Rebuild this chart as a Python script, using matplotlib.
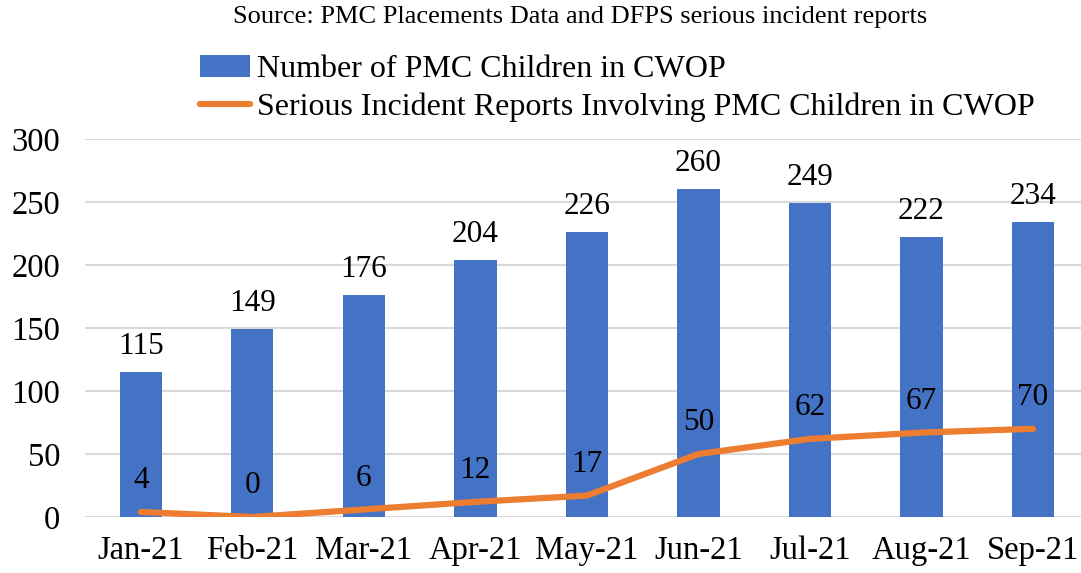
import matplotlib.pyplot as plt
import numpy as np

months = ["Jan-21", "Feb-21", "Mar-21", "Apr-21", "May-21", "Jun-21", "Jul-21", "Aug-21", "Sep-21"]
children = [115, 149, 176, 204, 226, 260, 249, 222, 234]
incidents = [4, 0, 6, 12, 17, 50, 62, 67, 70]

plt.rcParams['font.family'] = ['Liberation Serif', 'DejaVu Serif']

fig = plt.figure(figsize=(10.81, 5.73), dpi=100)
W, H = 1081, 573
ax = fig.add_axes([85 / W, 1 - 517 / H, (1081 - 85) / W, (517 - 139) / H])

x = np.arange(len(months))
bars = ax.bar(x, children, width=0.38, color='#4472C4', zorder=2,
              label='Number of PMC Children in CWOP')
line, = ax.plot(x, incidents, color='#ED7D31', linewidth=4.5, zorder=3,
                solid_capstyle='round',
                label='Serious Incident Reports Involving PMC Children in CWOP')

for xi, v in zip(x, children):
    ax.annotate(str(v), (xi, v), xytext=(0, 8), textcoords='offset points',
                ha='center', va='bottom', fontsize=22.5)
for xi, v in zip(x, incidents):
    ax.annotate(str(v), (xi, v), xytext=(0, 12), textcoords='offset points',
                ha='center', va='bottom', fontsize=22.5)

ax.set_xlim(-0.5, 8.43)
ax.set_ylim(0, 300)
ax.set_yticks(range(0, 301, 50))
ax.set_xticks(x)
ax.set_xticklabels(months)
ax.tick_params(axis='both', length=0, labelsize=23.5)
ax.tick_params(axis='y', pad=18)
ax.tick_params(axis='x', pad=13)
ax.yaxis.grid(True, color='#D9D9D9', linewidth=1.5, zorder=0)
ax.set_axisbelow(True)
for s in ax.spines.values():
    s.set_visible(False)

fig.text(580 / W, 1 - 17 / H, 'Source: PMC Placements Data and DFPS serious incident reports',
         ha='center', va='center', fontsize=19)
fig.legend(handles=[bars, line], loc='upper left', bbox_to_anchor=(200 / W, 1 - 55 / H),
           frameon=False, fontsize=23, handlelength=1.55, handletextpad=0.22,
           labelspacing=0.27, borderaxespad=0, borderpad=0)

fig.savefig('out.png', dpi=100)
